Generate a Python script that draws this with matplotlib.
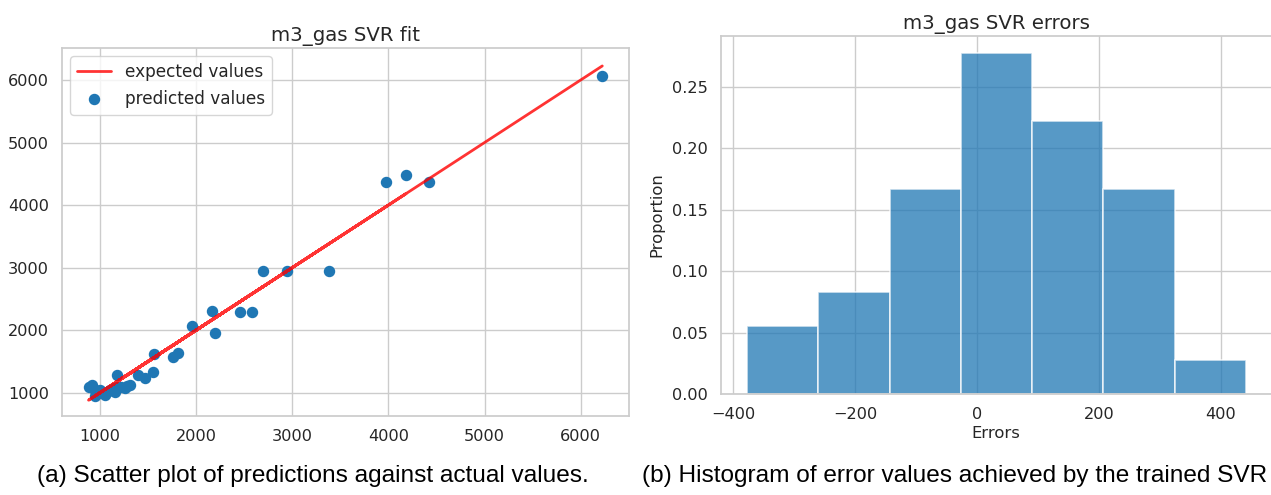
import matplotlib
matplotlib.use("Agg")
import matplotlib.pyplot as plt
import seaborn as sns

# ---- data ----
actual = [1560, 940, 3975, 1180, 2167, 1050, 2696, 1395, 1000, 2458,
          880, 1764, 1260, 4186, 950, 1160, 2946, 1035, 1956, 1310,
          1464, 915, 2577, 1100, 1173, 3380, 1220, 975, 2194, 1140,
          1810, 1075, 1549, 1280, 4427, 6225]
predicted = [1625, 1060, 4372, 1095, 2305, 965, 2947, 1280, 1040, 2295,
             1095, 1574, 1070, 4489, 940, 1015, 2947, 1015, 2070, 1120,
             1240, 1120, 2295, 1050, 1285, 2947, 1095, 1000, 1947, 1070,
             1627, 1010, 1333, 1105, 4372, 6058]

bin_edges = [-376.5, -259.7, -142.9, -26.1, 90.7, 207.5, 324.3, 441.1]
proportions = [2/36, 3/36, 6/36, 10/36, 8/36, 6/36, 1/36]

x_ticks = [1000, 2000, 3000, 4000, 5000, 6000]
y_ticks = [1000, 2000, 3000, 4000, 5000, 6000]
err_ticks = [-400, -200, 0, 200, 400]
err_labels = ['\u2212400', '\u2212200', '0', '200', '400']
prop_ticks = [0.00, 0.05, 0.10, 0.15, 0.20, 0.25]
prop_labels = ['0.00', '0.05', '0.10', '0.15', '0.20', '0.25']

sns.set_theme(style="whitegrid")
plt.rcParams['font.family'] = ['DejaVu Sans']

W, H = 1271, 495
fig = plt.figure(figsize=(W / 100, H / 100), dpi=100)

def frac(l, t, r, b):
    return [l / W, 1 - b / H, (r - l) / W, (b - t) / H]

TICK = 11.6
TITLE = 14.2
LABEL = 11.8

# ---- left: scatter ----
ax1 = fig.add_axes(frac(62, 48, 629, 416))
ax1.plot(actual, actual, color='red', lw=2.0, alpha=0.8, zorder=3,
         label='expected values')
ax1.scatter(actual, predicted, s=52, color='#1f77b4', zorder=2,
            label='predicted values')
ax1.set_xlim(604, 6503)
ax1.set_ylim(627, 6512)
ax1.set_xticks(x_ticks)
ax1.set_yticks(y_ticks)
ax1.tick_params(labelsize=TICK, colors='.15')
ax1.set_title('m3_gas SVR fit', fontsize=TITLE, color='.15', pad=5)
leg = ax1.legend(loc='upper left', fontsize=12.2, frameon=True)
leg.get_frame().set_edgecolor('.8')

# ---- right: histogram ----
ax2 = fig.add_axes(frac(720.7, 35.7, 1271.5, 394))
lefts = bin_edges[:-1]
widths = [bin_edges[i + 1] - bin_edges[i] for i in range(len(lefts))]
ax2.bar(lefts, proportions, width=widths, align='edge', color='#1f77b4',
        alpha=0.75, edgecolor='white', linewidth=1.2)
ax2.set_xlim(-420, 483)
ax2.set_ylim(0, 0.2917)
ax2.set_xticks(err_ticks)
ax2.set_xticklabels(err_labels)
ax2.set_yticks(prop_ticks)
ax2.set_yticklabels(prop_labels)
ax2.tick_params(labelsize=TICK, colors='.15')
ax2.set_xlabel('Errors', fontsize=LABEL, color='.15', labelpad=3)
ax2.set_ylabel('Proportion', fontsize=LABEL, color='.15', labelpad=5)
ax2.set_title('m3_gas SVR errors', fontsize=TITLE, color='.15', pad=5)

# ---- captions ----
fig.text(313 / W, 1 - 476 / H, '(a) Scatter plot of predictions against actual values.',
         ha='center', va='center', fontsize=17.6, family='Liberation Sans', color='black')
fig.text(642 / W, 1 - 476 / H, '(b) Histogram of error values achieved by the trained SVR',
         ha='left', va='center', fontsize=17.6, family='Liberation Sans', color='black')

fig.savefig('out.png', dpi=100)
